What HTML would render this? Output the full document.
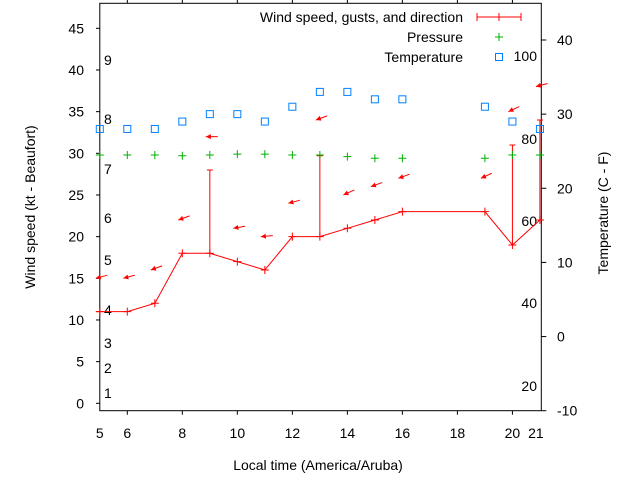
<!DOCTYPE html>
<html><head><meta charset="utf-8"><style>
body{margin:0;background:#fff}
svg{font-family:"Liberation Sans",sans-serif;font-size:14px}
</style></head><body>
<svg id="c" width="640" height="480" xmlns="http://www.w3.org/2000/svg">
<rect width="640" height="480" fill="#fff"/>
<g id="grid"></g>
<rect x="99.8" y="3.3" width="441.5" height="407.4" fill="none" stroke="#000" stroke-width="1"/>
<text x="35" y="207" text-anchor="middle" transform="rotate(-90 35 207)">Wind speed (kt - Beaufort)</text>
<text x="608" y="213" text-anchor="middle" transform="rotate(-90 608 213)">Temperature (C - F)</text>
<text x="318" y="470" text-anchor="middle">Local time (America/Aruba)</text>
<g>
<text x="463" y="22" text-anchor="end">Wind speed, gusts, and direction</text>
<g stroke="red"><line x1="477" y1="17" x2="521" y2="17"/><line x1="477" y1="13" x2="477" y2="21"/><line x1="521" y1="13" x2="521" y2="21"/><line x1="499" y1="13" x2="499" y2="21"/></g>
<text x="463" y="42" text-anchor="end">Pressure</text>
<g stroke="#00b000"><line x1="495" y1="37" x2="503" y2="37"/><line x1="499" y1="33" x2="499" y2="41"/></g>
<text x="463" y="62" text-anchor="end">Temperature</text>
<rect x="495.5" y="53.5" width="7" height="7" fill="none" stroke="#0080ff"/>
</g>
<g id="marks"></g>
</svg>
<script>
const hours=[5,6,7,8,9,10,11,12,13,14,15,16,19,20,21];
const windSpeed=[11,11,12,18,18,17,16,20,20,21,22,23,23,19,22];
const gustHours=[9,13,20,21];
const gustValues=[28,29.7,31,34];
const pressure=[29.8,29.8,29.8,29.7,29.8,29.9,29.9,29.8,29.8,29.6,29.4,29.4,29.4,29.8,29.8];
const temperature=[28,28,28,29,30,30,29,31,33,33,32,32,31,29,28];
const arrowLevel=[15,15,16,22,32,21,20,24,34,25,26,27,27,35,38];
const arrowAngle=[15,15,20,20,0,10,5,15,20,25,20,20,25,25,15];
const yTicks=[0,5,10,15,20,25,30,35,40,45];
const y2Ticks=[-10,0,10,20,30,40];
const xTicks=[6,8,10,12,14,16,18,20];
const xEdgeLabels=[5,21];
const beaufort=[[1,393],[2,368],[3,343],[4,310],[5,260],[6,218],[7,169],[8,119],[9,60]];
const fahr=[[100,56],[80,139],[60,221],[40,303],[20,386]];
const X0=99.8,X1=541.3,Y0=3.3,Y1=410.7;
const xs=h=>X0+(h-5)/(21.05-5)*(X1-X0);
const ys=v=>403.3-v*8.333;
const ys2=t=>410.7-(t+10)*7.414;
const NS='http://www.w3.org/2000/svg';
const svg=document.getElementById('marks'),G=document.getElementById('grid');
function mk(p,t,a){const e=document.createElementNS(NS,t);for(const k in a)e.setAttribute(k,a[k]);p.appendChild(e);return e;}
yTicks.forEach(v=>{const y=ys(v);
const l=mk(G,'line',{x1:96,y1:y,x2:X0,y2:y,stroke:'#000'});


const t=mk(G,'text',{x:84,y:y+5,'text-anchor':'end'});t.textContent=v;

});
y2Ticks.forEach(v=>{const y=ys2(v);
const l=mk(G,'line',{x1:X1,y1:y,x2:X1+5,y2:y,stroke:'#000'});


const t=mk(G,'text',{x:557,y:y+5});t.textContent=v;

});
xTicks.forEach(v=>{const x=xs(v);
const l=mk(G,'line',{x1:x,y1:Y1,x2:x,y2:Y1+4,stroke:'#000'});


const l2=mk(G,'line',{x1:x,y1:0,x2:x,y2:Y0,stroke:'#000'});


const t=mk(G,'text',{x:x,y:438,'text-anchor':'middle'});t.textContent=v;

});
xEdgeLabels.forEach((v,i)=>{const t=mk(G,'text',{x:xs(v)+(i?-4:0),y:438,'text-anchor':'middle'});t.textContent=v;

});
beaufort.forEach(([n,y])=>{const t=mk(G,'text',{x:104,y:y+5});t.textContent=n;

});
fahr.forEach(([n,y])=>{const t=mk(G,'text',{x:537,y:y+5,'text-anchor':'end'});t.textContent=n;

});
const pts=hours.map((h,i)=>xs(h)+','+ys(windSpeed[i])).join(' ');
const pl=mk(svg,'polyline',{points:pts,fill:'none',stroke:'red'});


const ext=mk(svg,'line',{x1:96,y1:ys(windSpeed[0]),x2:xs(hours[0]),y2:ys(windSpeed[0]),stroke:'red'});


hours.forEach((h,i)=>{const x=xs(h),y=ys(windSpeed[i]);
const p=mk(svg,'path',{d:`M${x-4} ${y}H${x+4}M${x} ${y-4}V${y+4}`,stroke:'red'});

});
gustHours.forEach((h,i)=>{const x=xs(h),idx=hours.indexOf(h),y0=ys(windSpeed[idx]),y1=ys(gustValues[i]);
const p=mk(svg,'path',{d:`M${x} ${y0}V${y1}M${x-3} ${y1}H${x+3}`,stroke:'red'});

});
pressure.forEach((v,i)=>{const x=xs(hours[i]),y=ys(v);
const p=mk(svg,'path',{d:`M${x-4} ${y}H${x+4}M${x} ${y-4}V${y+4}`,stroke:'#00b000'});

});
temperature.forEach((v,i)=>{const x=xs(hours[i]),y=ys2(v);
const r=mk(svg,'rect',{x:x-3.5,y:y-3.5,width:7,height:7,fill:'none',stroke:'#0080ff'});

});
arrowLevel.forEach((v,i)=>{const x=xs(hours[i])-4,y=ys(v),a=arrowAngle[i]*Math.PI/180;
const tx=x+12*Math.cos(a),ty=y-12*Math.sin(a);
const g=mk(svg,'g',{});


mk(g,'line',{x1:x,y1:y,x2:tx,y2:ty,stroke:'red'});
const ca=Math.cos(a),sa=Math.sin(a);
const bx=x+5*ca,by=y-5*sa;
mk(g,'polygon',{points:`${x},${y} ${bx+2.5*sa},${by+2.5*ca} ${bx-2.5*sa},${by-2.5*ca}`,fill:'red'});});
</script>
</body></html>
